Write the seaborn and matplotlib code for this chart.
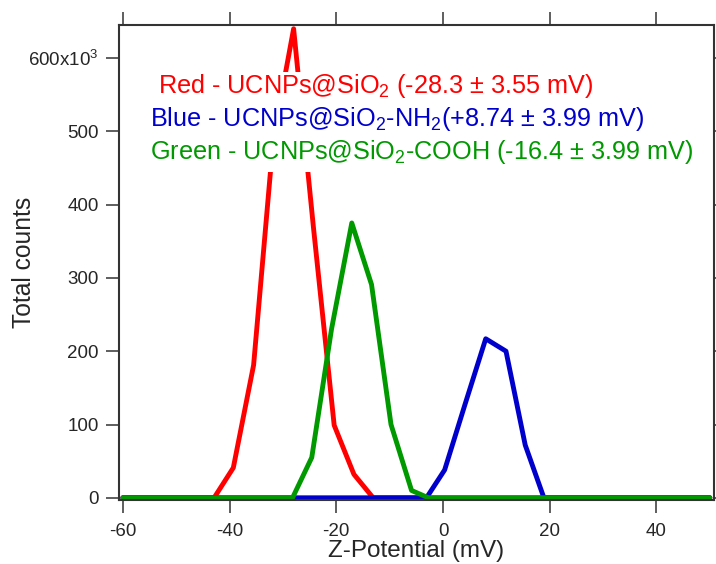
import pandas as pd
import seaborn as sns
import matplotlib.pyplot as plt
from matplotlib.patches import Rectangle

# values
red_x = [-60, -42.9, -39.3, -35.5, -31.8, -28.0, -24.3, -20.4, -16.7, -13.1, 50]
red_y = [0, 0, 41, 181, 490, 640, 370, 99, 32, 0, 0]

blue_x = [-60, -3.1, 0.3, 4.1, 8.0, 11.8, 15.4, 18.9, 50]
blue_y = [0, 0, 38, 127, 217, 200, 72, 0, 0]

green_x = [-60, -28.2, -24.6, -20.9, -17.1, -13.4, -9.75, -5.9, -2.75, 50]
green_y = [0, 0, 55, 230, 375, 291, 100, 10, 0, 0]

samples = ['Red', 'Blue', 'Green']
colors = {'Red': '#ff0000', 'Blue': '#0000cc', 'Green': '#009900'}
notes = [
    ('Red - UCNPs@SiO$_2$ (-28.3 \u00b1 3.55 mV)', 0.065, 0.856),
    ('Blue - UCNPs@SiO$_2$-NH$_2$(+8.74 \u00b1 3.99 mV)', 0.053, 0.787),
    ('Green - UCNPs@SiO$_2$-COOH (-16.4 \u00b1 3.99 mV)', 0.053, 0.717),
]

ytick_vals = [0, 100, 200, 300, 400, 500, 600]
ytick_labels = ['0', '100', '200', '300', '400', '500', '600x10$^3$']
xtick_vals = [-60, -40, -20, 0, 20, 40]

df = pd.concat([
    pd.DataFrame({'z': red_x, 'counts': red_y, 'sample': 'Red'}),
    pd.DataFrame({'z': blue_x, 'counts': blue_y, 'sample': 'Blue'}),
    pd.DataFrame({'z': green_x, 'counts': green_y, 'sample': 'Green'}),
], ignore_index=True)

sns.set_style('ticks')
plt.rcParams['font.family'] = ['Liberation Sans', 'DejaVu Sans']
plt.rcParams['mathtext.default'] = 'regular'

fig = plt.figure(figsize=(7.16, 5.64), dpi=100)
ax = fig.add_axes([0.166, 0.1135, 0.831, 0.842])

sns.lineplot(data=df, x='z', y='counts', hue='sample', hue_order=samples,
             palette=colors, sort=False, estimator=None, linewidth=3.5,
             legend=False, ax=ax)

# white block behind the annotation text (hides the red line there)
ax.add_patch(Rectangle((0.045, 0.69), 0.93, 0.212, transform=ax.transAxes,
                       facecolor='white', edgecolor='none', zorder=3))
for (txt, x, y), s in zip(notes, samples):
    ax.text(x, y, txt, transform=ax.transAxes, color=colors[s],
            fontsize=18.2, va='baseline', ha='left', zorder=4)

ax.set_xlim(-60.75, 50.75)
ax.set_ylim(-3, 645)
ax.set_xticks(xtick_vals)
ax.set_xticklabels([str(v) for v in xtick_vals])
ax.set_yticks(ytick_vals)
ax.set_yticklabels(ytick_labels)

ax.set_xlabel('Z-Potential (mV)', fontsize=17.5)
ax.xaxis.set_label_coords(0.5, -0.121)
ax.xaxis.label.set_verticalalignment('baseline')
ax.set_ylabel('Total counts', fontsize=17.7)
ax.yaxis.set_label_coords(-0.16, 0.5)
ax.yaxis.label.set_rotation_mode('default')
ax.yaxis.label.set_verticalalignment('center')

for sp in ax.spines.values():
    sp.set_visible(True)
    sp.set_color('#333333')
    sp.set_linewidth(1.5)
ax.tick_params(axis='both', which='major', direction='out', length=9.5,
               width=1.1, color='#333333', labelsize=13.5, pad=5,
               top=True, right=True, labeltop=False, labelright=False)
ax.tick_params(axis='x', pad=7)

fig.savefig('out.png', dpi=100)
